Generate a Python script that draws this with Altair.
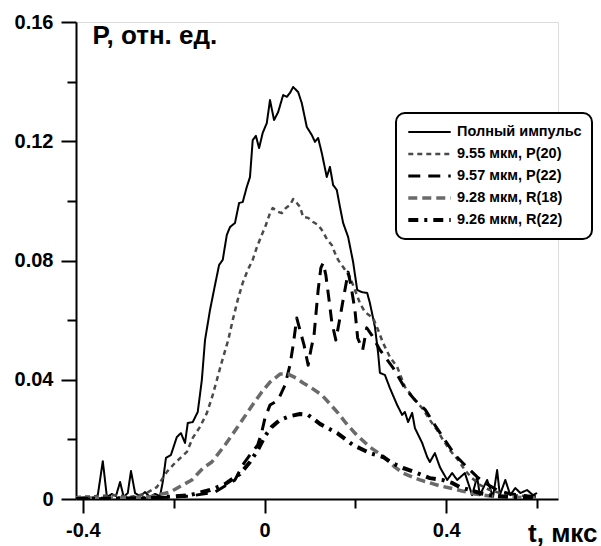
import altair as alt
import pandas as pd

FONT = "Liberation Sans"

names = ["Полный импульс", "9.55 мкм, P(20)", "9.57 мкм, P(22)", "9.28 мкм, R(18)", "9.26 мкм, R(22)"]

full_t = [-0.415, -0.396, -0.380, -0.367, -0.356, -0.347, -0.336, -0.327, -0.318, -0.310, -0.301, -0.294,
          -0.285, -0.274, -0.263, -0.252, -0.241, -0.230, -0.224, -0.217, -0.206, -0.193, -0.184, -0.175,
          -0.169, -0.158, -0.147, -0.138, -0.131, -0.120, -0.109, -0.100, -0.092, -0.083, -0.076, -0.065,
          -0.056, -0.048, -0.039, -0.032, -0.026, -0.019, -0.012, -0.004, 0.005, 0.012, 0.021, 0.030,
          0.041, 0.049, 0.056, 0.063, 0.074, 0.082, 0.093, 0.104, 0.111, 0.118, 0.126, 0.137, 0.144,
          0.151, 0.159, 0.166, 0.173, 0.184, 0.195, 0.204, 0.214, 0.226, 0.232, 0.243, 0.250, 0.254,
          0.265, 0.276, 0.292, 0.303, 0.309, 0.316, 0.325, 0.331, 0.347, 0.358, 0.364, 0.375, 0.386,
          0.402, 0.413, 0.424, 0.441, 0.457, 0.468, 0.474, 0.490, 0.503, 0.512, 0.518, 0.530, 0.541,
          0.552, 0.563, 0.578, 0.591, 0.600]
full_p = [0.0, 0.0007, 0.0, 0.0013, 0.0127, 0.0007, 0.0017, 0.001, 0.0057, 0.0007, 0.002, 0.0094,
          0.002, 0.001, 0.0023, 0.0007, 0.0017, 0.001, 0.0057, 0.0138, 0.0148, 0.0208, 0.0221, 0.0188,
          0.0255, 0.0258, 0.0292, 0.0399, 0.0533, 0.0634, 0.0718, 0.0785, 0.0802, 0.0886, 0.0912, 0.0926,
          0.0993, 0.0996, 0.1047, 0.1080, 0.1204, 0.1218, 0.1177, 0.1228, 0.1261, 0.1338, 0.1271, 0.1298,
          0.1355, 0.1349, 0.1362, 0.1382, 0.1365, 0.1328, 0.1248, 0.1221, 0.1198, 0.1211, 0.1161, 0.1080, 0.1114,
          0.1053, 0.1037, 0.0980, 0.0926, 0.0879, 0.0795, 0.0701, 0.0694, 0.0691, 0.0657, 0.0577, 0.0490, 0.0423,
          0.0416, 0.0372, 0.0315, 0.0282, 0.0292, 0.0258, 0.0289, 0.0238, 0.0188, 0.0141, 0.0124, 0.0154, 0.0107,
          0.0064, 0.0087, 0.0064, 0.0087, 0.0013, 0.0074, 0.0013, 0.0064, 0.0007, 0.0097, 0.0013, 0.0064, 0.0013,
          0.0037, 0.002, 0.003, 0.0013, 0.002]

p20_t = [-0.415, -0.363, -0.330, -0.296, -0.263, -0.237, -0.215, -0.197, -0.171, -0.158, -0.142, -0.127,
         -0.114, -0.105, -0.094, -0.080, -0.070, -0.059, -0.048, -0.037, -0.026, -0.019, -0.015, -0.006,
         0.003, 0.012, 0.018, 0.030, 0.038, 0.047, 0.056, 0.063, 0.071, 0.078, 0.085, 0.096, 0.107, 0.118,
         0.129, 0.138, 0.148, 0.155, 0.162, 0.173, 0.188, 0.210, 0.221, 0.239, 0.250, 0.261, 0.276, 0.292,
         0.309, 0.328, 0.350, 0.364, 0.380, 0.393, 0.408, 0.426, 0.441, 0.457, 0.474, 0.496, 0.518, 0.551, 0.600]
p20_p = [0.0007, 0.001, 0.0013, 0.0007, 0.0017, 0.004, 0.0091, 0.0121, 0.0158, 0.0205, 0.0242, 0.0288,
         0.0349, 0.0399, 0.0460, 0.0533, 0.0600, 0.0668, 0.0725, 0.0768, 0.0802, 0.0835, 0.0852, 0.0886,
         0.0919, 0.0959, 0.0976, 0.0963, 0.0959, 0.0976, 0.0986, 0.1006, 0.0993, 0.0980, 0.0946, 0.0943, 0.0929, 0.0919,
         0.0896, 0.0869, 0.0852, 0.0825, 0.0802, 0.0778, 0.0745, 0.0657, 0.0627, 0.0607, 0.0567, 0.0523, 0.0476, 0.0443,
         0.0376, 0.0339, 0.0299, 0.0265, 0.0231, 0.0198, 0.0164, 0.0131, 0.0097, 0.0070, 0.0047, 0.0030, 0.0020, 0.0013, 0.0007]

p22_t = [-0.415, -0.252, -0.164, -0.109, -0.065, -0.048, -0.032, -0.015, -0.006, 0.001, 0.012, 0.030,
         0.045, 0.056, 0.063, 0.071, 0.078, 0.087, 0.096, 0.102, 0.109, 0.118, 0.124, 0.129, 0.135, 0.142,
         0.148, 0.157, 0.166, 0.173, 0.179, 0.184, 0.190, 0.199, 0.205, 0.216, 0.225, 0.236, 0.254, 0.283,
         0.309, 0.331, 0.354, 0.375, 0.397, 0.419, 0.441, 0.468, 0.490, 0.512, 0.541, 0.600]
p22_p = [0.0, 0.0003, 0.001, 0.0023, 0.0064, 0.0114, 0.0148, 0.0181, 0.0225, 0.0272, 0.0315, 0.0332,
         0.0382, 0.0449, 0.0516, 0.0607, 0.0567, 0.0516, 0.0449, 0.0500, 0.0550, 0.0701, 0.0775, 0.0792, 0.0751, 0.0668,
         0.0594, 0.0533, 0.0607, 0.0668, 0.0718, 0.0761, 0.0718, 0.0634, 0.0540, 0.0500, 0.0574, 0.0550, 0.0500, 0.0440,
         0.0372, 0.0332, 0.0299, 0.0248, 0.0198, 0.0148, 0.0114, 0.0074, 0.0050, 0.0030, 0.0017, 0.0007]

r18_t = [-0.415, -0.319, -0.253, -0.208, -0.180, -0.160, -0.135, -0.116, -0.087, -0.059, -0.028, -0.006,
         0.012, 0.034, 0.052, 0.069, 0.085, 0.104, 0.126, 0.144, 0.162, 0.179, 0.199, 0.215, 0.232, 0.254,
         0.270, 0.287, 0.305, 0.325, 0.342, 0.364, 0.386, 0.408, 0.435, 0.463, 0.496, 0.541, 0.600]
r18_p = [0.0003, 0.0003, 0.0007, 0.0023, 0.0047, 0.0064, 0.0104, 0.0124, 0.0181, 0.0242, 0.0312, 0.0359,
         0.0392, 0.0419, 0.0419, 0.0406, 0.0389, 0.0372, 0.0349, 0.0319, 0.0288, 0.0255, 0.0221, 0.0198, 0.0174, 0.0151,
         0.0131, 0.0107, 0.0087, 0.0074, 0.0064, 0.0054, 0.0044, 0.0037, 0.0027, 0.0017, 0.001, 0.0007, 0.0003]

r22_t = [-0.415, -0.252, -0.164, -0.120, -0.087, -0.054, -0.032, -0.015, 0.001, 0.016, 0.034, 0.056,
         0.078, 0.096, 0.122, 0.160, 0.195, 0.232, 0.261, 0.280, 0.305, 0.336, 0.364, 0.391, 0.413, 0.430,
         0.452, 0.474, 0.507, 0.541, 0.600]
r22_p = [0.0, 0.0003, 0.0013, 0.003, 0.005, 0.0084, 0.0124, 0.0164, 0.0211, 0.0242, 0.0265, 0.0278,
         0.0285, 0.0282, 0.0252, 0.0221, 0.0181, 0.0154, 0.0141, 0.0121, 0.0104, 0.0087, 0.007, 0.0064, 0.0054, 0.004,
         0.003, 0.002, 0.001, 0.0007, 0.0003]

series_t = [full_t, p20_t, p22_t, r18_t, r22_t]
series_p = [full_p, p20_p, p22_p, r18_p, r22_p]

x_ticks = [-0.4, -0.2, 0, 0.2, 0.4, 0.6]
x_labeled = [-0.4, 0, 0.4]
y_ticks = [0, 0.02, 0.04, 0.06, 0.08, 0.1, 0.12, 0.14, 0.16]
y_labeled = [0, 0.04, 0.08, 0.12, 0.16]

colors = ["#000000", "#4a4a4a", "#000000", "#6a6a6a", "#000000"]
dashes = [[1, 0], [5, 4], [12, 8], [9, 5], [10, 6, 3, 6]]
widths = [2, 4, 4.5, 4.5, 4.5]

rows = []
for name, ts, ps in zip(names, series_t, series_p):
    assert len(ts) == len(ps), name
    for i, (t, p) in enumerate(zip(ts, ps)):
        rows.append({"series": name, "t": t, "p": p, "i": i})
df = pd.DataFrame(rows)

legend = alt.Legend(
    title=None, orient="none", legendX=320, legendY=91,
    strokeColor="black", cornerRadius=9, padding=10, fillColor="white",
    symbolType="stroke", symbolSize=1800, labelFont=FONT, labelFontSize=14.5,
    labelFontWeight="bold", labelColor="black", labelLimit=300,
    clipHeight=18, rowPadding=4,
)

x_major = "indexof(%s, datum.value) >= 0" % str(x_labeled)
y_major = "indexof(%s, datum.value) >= 0" % str(y_labeled)

x_axis = alt.Axis(
    values=x_ticks, title="t, мкс", titleFont=FONT, titleFontSize=26, titleFontWeight="bold",
    titleColor="black", titleX=521, titleY=42, titleAlign="right", titleBaseline="alphabetic",
    labelExpr="indexof(%s, datum.value) >= 0 ? (datum.value == 0 ? '0' : (datum.value < 0 ? '-' : '') + format(abs(datum.value), '.1f')) : ''" % str(x_labeled),
    labelFont=FONT, labelFontSize=20, labelFontWeight="bold", labelColor="black", labelPadding=7,
    tickSize={"condition": {"test": x_major, "value": 14}, "value": 9},
    tickWidth=2, tickColor="black", domainColor="black", domainWidth=2, grid=False, labelFlush=False,
)
y_axis = alt.Axis(
    values=y_ticks, title="P, отн. ед.", titleFont=FONT, titleFontSize=26, titleFontWeight="bold",
    titleColor="black", titleAngle=0, titleX=16, titleY=21, titleAlign="left", titleBaseline="alphabetic",
    labelExpr="indexof(%s, datum.value) >= 0 ? (datum.value == 0 ? '0' : format(datum.value, '.2f')) : ''" % str(y_labeled),
    labelFont=FONT, labelFontSize=20, labelFontWeight="bold", labelColor="black", labelPadding=8,
    tickSize={"condition": {"test": y_major, "value": 15}, "value": 9},
    tickWidth=2, tickColor="black", domainColor="black", domainWidth=2, grid=False, labelFlush=False,
)

chart = alt.Chart(df).mark_line(clip=True, strokeJoin="round").encode(
    x=alt.X("t:Q", scale=alt.Scale(domain=[-0.415, 0.646], nice=False, zero=False), axis=x_axis),
    y=alt.Y("p:Q", scale=alt.Scale(domain=[0, 0.16], nice=False, zero=False), axis=y_axis),
    color=alt.Color("series:N", scale=alt.Scale(domain=names, range=colors), legend=legend, sort=names),
    strokeDash=alt.StrokeDash("series:N", scale=alt.Scale(domain=names, range=dashes), legend=legend, sort=names),
    strokeWidth=alt.StrokeWidth("series:N", scale=alt.Scale(domain=names, range=widths), legend=legend, sort=names),
    order="i:Q",
).properties(
    width=482, height=477,
    autosize=alt.AutoSizeParams(type="none"),
    padding={"left": 76, "top": 22, "right": 43, "bottom": 47},
).configure_view(stroke=None).configure(background="white").configure_legend(strokeWidth=2)

chart.save("out.html", embed_options={"renderer": "svg", "actions": False})
